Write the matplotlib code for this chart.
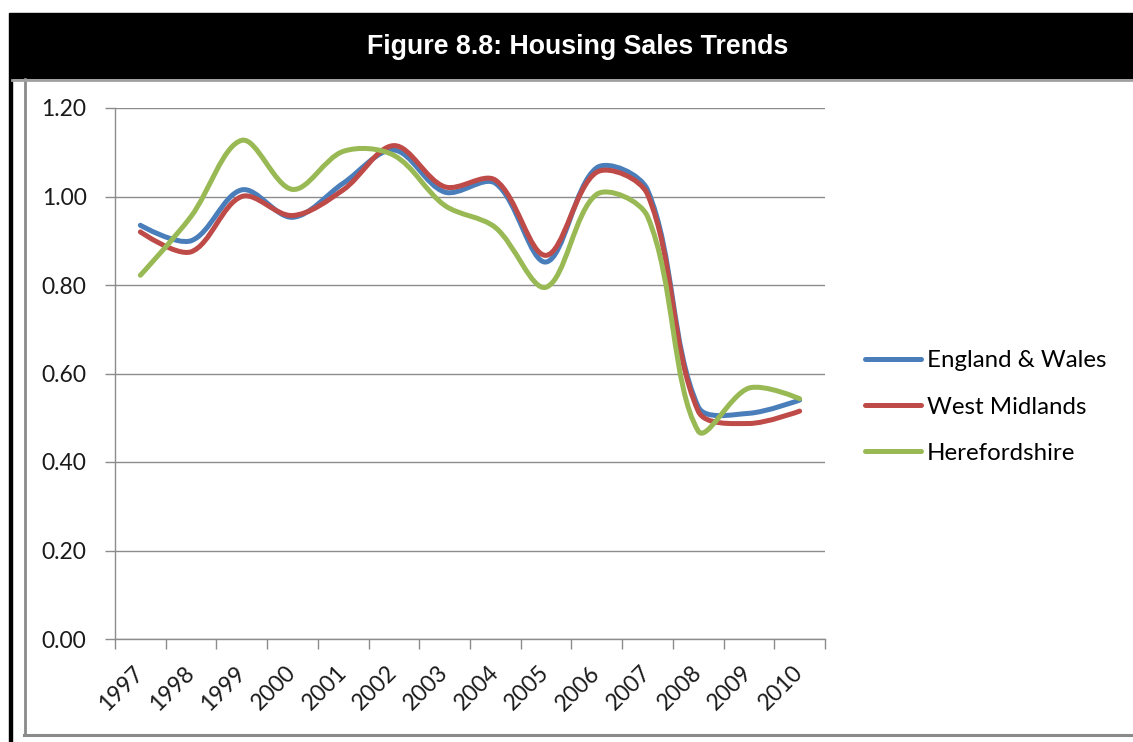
import matplotlib

matplotlib.use("Agg")
import matplotlib.pyplot as plt
import numpy as np
from matplotlib.lines import Line2D
from matplotlib.patches import PathPatch, Rectangle
from matplotlib.path import Path
from matplotlib.ticker import FixedLocator, FuncFormatter

years = ["1997", "1998", "1999", "2000", "2001", "2002", "2003",
         "2004", "2005", "2006", "2007", "2008", "2009", "2010"]
england_wales = [0.935, 0.90, 1.015, 0.953, 1.03, 1.105, 1.01,
                 1.03, 0.852, 1.065, 1.015, 0.525, 0.51, 0.54]
west_midlands = [0.92, 0.875, 1.00, 0.957, 1.015, 1.115, 1.022,
                 1.037, 0.867, 1.055, 1.005, 0.515, 0.487, 0.515]
herefordshire = [0.822, 0.955, 1.127, 1.016, 1.102, 1.093, 0.98,
                 0.93, 0.795, 1.005, 0.955, 0.47, 0.567, 0.543]
y_ticks = [0.0, 0.2, 0.4, 0.6, 0.8, 1.0, 1.2]

series = [
    ("England & Wales", england_wales, "#4a7ebb"),
    ("West Midlands", west_midlands, "#be4b48"),
    ("Herefordshire", herefordshire, "#98b954"),
]

W, H = 1133, 742
GRID = "#8c8c8c"
TEXT_FONT = ["Lato", "DejaVu Sans"]
TENSION = 1 / 3


def smooth_path(ax, xs, ys):
    # Excel-style smoothed line: cubic Bezier through each point, with the
    # tangent split by the screen length of the neighbouring segments
    data = np.column_stack([xs, ys]).astype(float)
    disp = ax.transData.transform(data)
    n = len(data)
    before = data.copy()
    after = data.copy()
    for i in range(1, n - 1):
        d01 = np.hypot(*(disp[i] - disp[i - 1]))
        d12 = np.hypot(*(disp[i + 1] - disp[i]))
        tangent = data[i + 1] - data[i - 1]
        before[i] = data[i] - tangent * TENSION * d01 / (d01 + d12)
        after[i] = data[i] + tangent * TENSION * d12 / (d01 + d12)
    verts = [data[0]]
    codes = [Path.MOVETO]
    for i in range(n - 1):
        verts += [after[i], before[i + 1], data[i + 1]]
        codes += [Path.CURVE4] * 3
    return Path(verts, codes)


fig = plt.figure(figsize=(W / 100, H / 100), dpi=100)

# header band and frame
fig.patches.append(Rectangle((9 / W, 1 - 78 / H), 1 - 9 / W, 65 / H,
                             transform=fig.transFigure, color="black", zorder=0))
fig.patches.append(Rectangle((9 / W, 0), 3 / W, 1 - 78 / H,
                             transform=fig.transFigure, color="black", zorder=0))
fig.lines.append(Line2D([25 / W, 25 / W], [1 - 735 / H, 1 - 79 / H],
                        transform=fig.transFigure, color="#8a8a8a", lw=2))
fig.lines.append(Line2D([12 / W, 1], [1 - 79.5 / H, 1 - 79.5 / H],
                        transform=fig.transFigure, color="#a0a0a0", lw=2))
fig.lines.append(Line2D([24 / W, 1], [1 - 734.5 / H, 1 - 734.5 / H],
                        transform=fig.transFigure, color="#8a8a8a", lw=2.2))
fig.text(578 / W, 1 - 47 / H, "Figure 8.8: Housing Sales Trends", color="white",
         fontsize=19.3, fontweight="bold", family="Liberation Sans",
         ha="center", va="center")

ax = fig.add_axes([115 / W, 1 - 639 / H, 710 / W, 531 / H])
x = list(range(len(years)))
ax.set_xlim(-0.5, len(years) - 0.5)
ax.set_ylim(0, 1.2)

for name, values, color in series:
    ax.add_patch(PathPatch(smooth_path(ax, x, values), facecolor="none", edgecolor=color,
                           lw=3.6, capstyle="round", joinstyle="round", zorder=3))

ax.set_yticks(y_ticks)
ax.yaxis.set_major_formatter(FuncFormatter(lambda v, _: f"{v:.2f}"))
ax.grid(axis="y", color=GRID, lw=1)
ax.set_axisbelow(True)

ax.set_xticks(x)
ax.set_xticklabels(years)
ax.xaxis.set_minor_locator(FixedLocator([i - 0.5 for i in range(len(years) + 1)]))
ax.tick_params(axis="x", which="major", length=0, pad=22)
ax.tick_params(axis="x", which="minor", length=7, color=GRID, width=1)
ax.tick_params(axis="y", length=7, color=GRID, width=1, pad=13.5)

for lab in ax.get_xticklabels():
    lab.set_rotation(45)
    lab.set_ha("right")
    lab.set_va("center")
    lab.set_rotation_mode("anchor")
for lab in ax.get_xticklabels() + ax.get_yticklabels():
    lab.set_family(TEXT_FONT)
    lab.set_fontsize(16.5)
    lab.set_color("#1a1a1a")

for side in ("top", "right"):
    ax.spines[side].set_visible(False)
for side in ("left", "bottom"):
    ax.spines[side].set_color(GRID)
    ax.spines[side].set_linewidth(1)

handles = [Line2D([], [], color=c, lw=3.6, solid_capstyle="round") for _, _, c in series]
ax.legend(handles, [s[0] for s in series], loc="center left",
          bbox_to_anchor=(865 / W, 1 - 407 / H), bbox_transform=fig.transFigure,
          frameon=False, borderpad=0, borderaxespad=0, handlelength=2.33,
          handletextpad=0.25, labelspacing=1.05,
          prop={"family": TEXT_FONT, "size": 17.3})

fig.savefig("out.png", dpi=100)
